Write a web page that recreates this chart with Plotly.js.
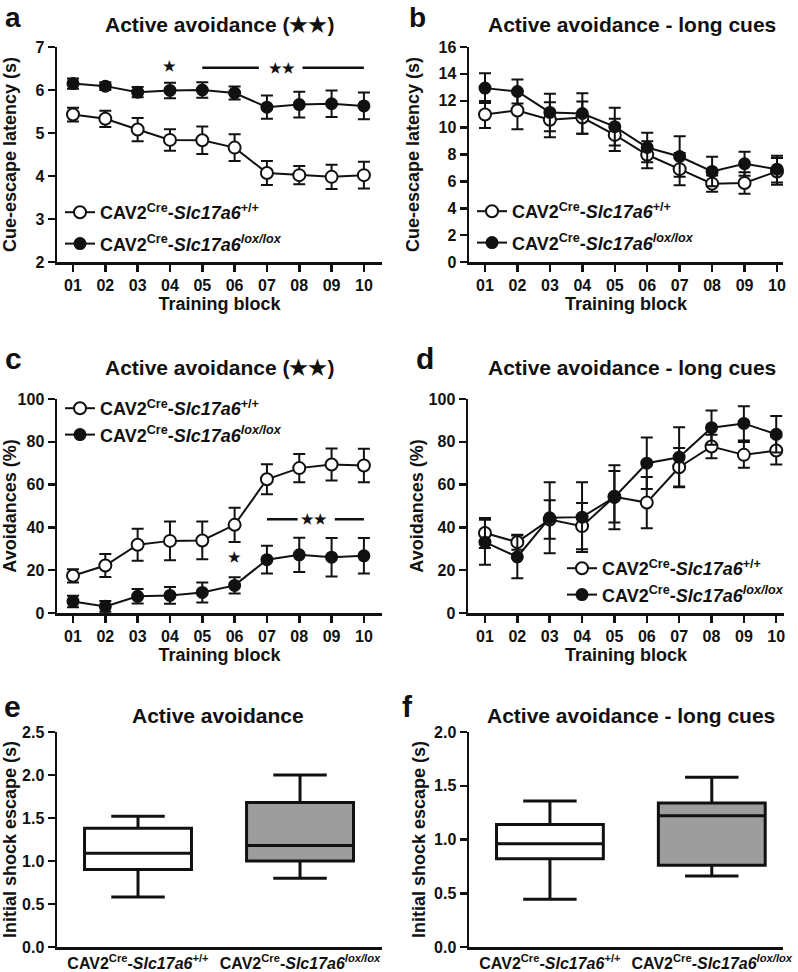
<!DOCTYPE html>
<html>
<head>
<meta charset="utf-8">
<script src="https://cdn.plot.ly/plotly-3.0.1.min.js"></script>
<style>html,body{margin:0;padding:0;background:#fff;}#chart{width:798px;height:972px;}</style>
</head>
<body>
<div id="chart"></div>
<script>
// ---------- data ----------
const blocks = [1,2,3,4,5,6,7,8,9,10];
const blockLabels = ["01","02","03","04","05","06","07","08","09","10"];
const seriesWT = "CAV2<sup>Cre</sup>-<i>Slc17a6</i><sup>+/+</sup>";
const seriesKO = "CAV2<sup>Cre</sup>-<i>Slc17a6</i><sup><i>lox/lox</i></sup>";

// a: cue-escape latency (s)
const aWT = [5.43,5.33,5.08,4.84,4.83,4.66,4.07,4.02,3.98,4.02];
const aWTerr = [0.16,0.19,0.27,0.25,0.32,0.31,0.28,0.21,0.28,0.31];
const aKO = [6.15,6.09,5.95,5.99,6.00,5.93,5.60,5.66,5.68,5.63];
const aKOerr = [0.12,0.09,0.12,0.18,0.18,0.15,0.27,0.30,0.31,0.31];

// b: cue-escape latency, long cues (s)
const bWT = [10.98,11.28,10.59,10.75,9.46,7.98,6.91,5.83,5.88,6.74];
const bWTerr = [1.0,1.4,1.3,1.2,1.2,1.0,1.2,0.6,0.8,1.0];
const bKO = [12.94,12.69,11.13,11.05,10.07,8.52,7.85,6.74,7.31,6.91];
const bKOerr = [1.1,0.9,1.4,1.5,1.4,1.1,1.5,1.1,0.9,1.0];

// c: avoidances (%)
const cWT = [17.4,22.2,31.9,33.7,33.9,41.2,62.5,67.7,69.4,68.9];
const cWTerr = [3.1,5.4,7.5,9.0,8.8,8.0,7.0,6.6,7.5,7.8];
const cKO = [5.4,3.1,7.8,8.2,9.6,12.9,24.9,27.2,26.1,26.7];
const cKOerr = [2.7,2.5,3.4,3.9,4.7,3.8,6.5,8.0,9.0,8.3];

// d: avoidances, long cues (%)
const dWT = [37.4,33.1,43.7,40.6,54.3,51.6,68.1,77.8,73.9,75.9];
const dWTerr = [7.0,3.5,9.0,10.8,12.0,12.0,9.0,5.5,6.0,6.5];
const dKO = [33.1,26.2,44.5,44.8,54.1,70.0,72.8,86.6,88.6,83.5];
const dKOerr = [10.5,10.0,16.6,16.3,15.0,12.0,14.0,8.0,8.0,8.5];

// e, f: initial shock escape (s) box statistics [WT, KO]
const groupLabels = [
  "<b>CAV2<sup>Cre</sup>-<i>Slc17a6</i><sup>+/+</sup></b>",
  "<b>CAV2<sup>Cre</sup>-<i>Slc17a6</i><sup><i>lox/lox</i></sup></b>"
];
const eLow = [0.58,0.80], eQ1 = [0.90,1.00], eMed = [1.09,1.18], eQ3 = [1.38,1.68], eHigh = [1.52,2.00];
const fLow = [0.445,0.66], fQ1 = [0.82,0.76], fMed = [0.96,1.22], fQ3 = [1.14,1.34], fHigh = [1.357,1.58];

// ---------- style ----------
const FF = "Liberation Sans, Arial, sans-serif";
const TICKF = {family: FF, size: 16, color: "#111", weight: "bold"};
const TITLEF = {family: FF, size: 18, color: "#111", weight: "bold"};
function lineTrace(y, err, filled, xa, ya, name, lg) {
  return {
    type: "scatter", mode: "lines+markers", x: blocks, y: y,
    xaxis: xa, yaxis: ya, name: name, legend: lg, legendgroup: lg + name, showlegend: true,
    line: {color: "#111", width: 2},
    marker: {size: filled ? 11 : 12, color: filled ? "#111" : "#fff", line: {color: "#111", width: 2}},
    error_y: {type: "data", array: err, visible: true, color: "#111", thickness: 2, width: 6},
    cliponaxis: false
  };
}
function boxTrace(i, low, q1, med, q3, high, xa, ya, fill) {
  return {
    type: "box", x: [i], q1: [q1[i]], median: [med[i]], q3: [q3[i]],
    lowerfence: [low[i]], upperfence: [high[i]], xaxis: xa, yaxis: ya,
    width: 0.66, whiskerwidth: 0.5, fillcolor: fill,
    line: {color: "#111", width: 3}, showlegend: false, boxpoints: false
  };
}

const data = [
  lineTrace(aWT, aWTerr, false, "x", "y", seriesWT, "legend"),
  lineTrace(aKO, aKOerr, true, "x", "y", seriesKO, "legend"),
  lineTrace(bWT, bWTerr, false, "x2", "y2", seriesWT, "legend2"),
  lineTrace(bKO, bKOerr, true, "x2", "y2", seriesKO, "legend2"),
  lineTrace(cWT, cWTerr, false, "x3", "y3", seriesWT, "legend3"),
  lineTrace(cKO, cKOerr, true, "x3", "y3", seriesKO, "legend3"),
  lineTrace(dWT, dWTerr, false, "x4", "y4", seriesWT, "legend4"),
  lineTrace(dKO, dKOerr, true, "x4", "y4", seriesKO, "legend4"),
  boxTrace(0, eLow, eQ1, eMed, eQ3, eHigh, "x5", "y5", "#ffffff"),
  boxTrace(1, eLow, eQ1, eMed, eQ3, eHigh, "x5", "y5", "#9d9d9d"),
  boxTrace(0, fLow, fQ1, fMed, fQ3, fHigh, "x6", "y6", "#ffffff"),
  boxTrace(1, fLow, fQ1, fMed, fQ3, fHigh, "x6", "y6", "#9d9d9d")
];

const px = v => v / 798;
const py = v => (972 - v) / 972;

function xAx(dom, range, anchor, title) {
  return {
    domain: dom, range: range, anchor: anchor, showline: true, linecolor: "#111", linewidth: 2.5,
    ticks: "outside", ticklen: 7, tickwidth: 2.5, tickcolor: "#111", showgrid: false, zeroline: false,
    tickmode: "array", tickvals: blocks, ticktext: blockLabels, tickfont: TICKF, fixedrange: true,
    tickangle: 0, title: {text: title, font: TITLEF, standoff: 3}
  };
}
function yAx(dom, range, anchor, title, dtick, fmt, standoff) {
  return {
    domain: dom, range: range, anchor: anchor, showline: true, linecolor: "#111", linewidth: 2.5,
    ticks: "outside", ticklen: 7, tickwidth: 2.5, tickcolor: "#111", showgrid: false, zeroline: false,
    dtick: dtick, tick0: 0, tickformat: fmt || "", tickfont: TICKF, fixedrange: true,
    title: {text: title, font: TITLEF, standoff: standoff}
  };
}
function boxX(dom, range, anchor) {
  return {
    domain: dom, range: range, anchor: anchor, showline: true, linecolor: "#111", linewidth: 2.5,
    ticks: "", showgrid: false, zeroline: false, tickmode: "array", tickvals: [0, 1], ticktext: groupLabels,
    tickangle: 0,
    tickfont: {family: FF, size: 16, color: "#111", weight: "bold"}, fixedrange: true
  };
}

const colL = [px(57), px(382)];
const colR = [px(469), px(783)];
const colRd = [px(468), px(784)];
const row1 = [py(262), py(47)];
const row2 = [py(613), py(399)];
const row3 = [py(947), py(732)];

const legFont = {family: FF, size: 18, color: "#111", weight: "bold"};
function leg(x, y, gap) {
  return {x: x, y: y, xanchor: "left", yanchor: "top", bgcolor: "rgba(0,0,0,0)",
          font: legFont, traceorder: "grouped", itemwidth: 30, tracegroupgap: gap};
}

function ann(x, y, text, size, ref, yanchor) {
  return {x: x, y: y, xref: ref ? ref[0] : "paper", yref: ref ? ref[1] : "paper", text: text, showarrow: false,
          xanchor: "center", yanchor: yanchor || "middle", font: {family: FF, size: size, color: "#111", weight: "bold"}};
}

// significance markers
const sigA = {star: [4, 6.56], bar1: [5, 6.75], stars2: 7.47, bar2: [8.1, 10], barY: 6.52};
const sigC = {star: [6, 26], bar1: [7, 7.95], stars2: 8.45, bar2: [9.1, 10], barY: 43.8};

const layout = {
  width: 798, height: 972, margin: {l: 0, r: 0, t: 0, b: 0},
  paper_bgcolor: "#fff", plot_bgcolor: "rgba(0,0,0,0)",
  font: {family: FF, color: "#111"},
  xaxis: xAx(colL, [0.505, 10.56], "y", "Training block"),
  yaxis: yAx(row1, [2, 7], "x", "Cue-escape latency (s)", 1, "", 15),
  xaxis2: xAx(colR, [0.507, 10.185], "y2", "Training block"),
  yaxis2: yAx(row1, [0, 16], "x2", "Cue-escape latency (s)", 2, "", 14),
  xaxis3: xAx(colL, [0.505, 10.56], "y3", "Training block"),
  yaxis3: yAx(row2, [0, 100], "x3", "Avoidances (%)", 20, "", 0),
  xaxis4: xAx(colRd, [0.476, 10.24], "y4", "Training block"),
  yaxis4: yAx(row2, [0, 100], "x4", "Avoidances (%)", 20, "", 1),
  xaxis5: boxX(colL, [-0.5, 1.506], "y5"),
  yaxis5: yAx(row3, [0, 2.5], "x5", "Initial shock escape (s)", 0.5, ".1f", 3),
  xaxis6: boxX(colR, [-0.5, 1.44], "y6"),
  yaxis6: yAx(row3, [0, 2], "x6", "Initial shock escape (s)", 0.5, ".1f", 4),
  legend: leg(px(60), py(194), 5),
  legend2: leg(px(472), py(193), 5),
  legend3: leg(px(60), py(390), 0),
  legend4: leg(px(562), py(550), 0),
  showlegend: true,
  annotations: [
    ann(px(13), py(0), "a", 28, null, "top"), ann(px(417), py(0), "b", 28, null, "top"),
    ann(px(13), py(358), "c", 30), ann(px(425), py(358), "d", 30),
    ann(px(12), py(706), "e", 30), ann(px(407), py(706), "f", 30),
    ann(px(219), py(25), "Active avoidance (★★)", 21),
    ann(px(632), py(25), "Active avoidance - long cues", 21),
    ann(px(219), py(367), "Active avoidance (★★)", 21),
    ann(px(632), py(367), "Active avoidance - long cues", 21),
    ann(px(218), py(715), "Active avoidance", 21),
    ann(px(631), py(715), "Active avoidance - long cues", 21),
    ann(sigA.star[0], sigA.star[1], "★", 14, ["x", "y"]),
    ann(sigA.stars2, sigA.barY, "★★", 14, ["x", "y"]),
    ann(sigC.star[0], sigC.star[1], "★", 14, ["x3", "y3"]),
    ann(sigC.stars2, sigC.barY, "★★", 14, ["x3", "y3"])
  ],
  shapes: [
    {type: "line", xref: "x", yref: "y", x0: sigA.bar1[0], x1: sigA.bar1[1], y0: sigA.barY, y1: sigA.barY, line: {color: "#111", width: 2.5}},
    {type: "line", xref: "x", yref: "y", x0: sigA.bar2[0], x1: sigA.bar2[1], y0: sigA.barY, y1: sigA.barY, line: {color: "#111", width: 2.5}},
    {type: "line", xref: "x3", yref: "y3", x0: sigC.bar1[0], x1: sigC.bar1[1], y0: sigC.barY, y1: sigC.barY, line: {color: "#111", width: 2.5}},
    {type: "line", xref: "x3", yref: "y3", x0: sigC.bar2[0], x1: sigC.bar2[1], y0: sigC.barY, y1: sigC.barY, line: {color: "#111", width: 2.5}}
  ]
};

Plotly.newPlot("chart", data, layout, {staticPlot: true, displayModeBar: false});
</script>
</body>
</html>
